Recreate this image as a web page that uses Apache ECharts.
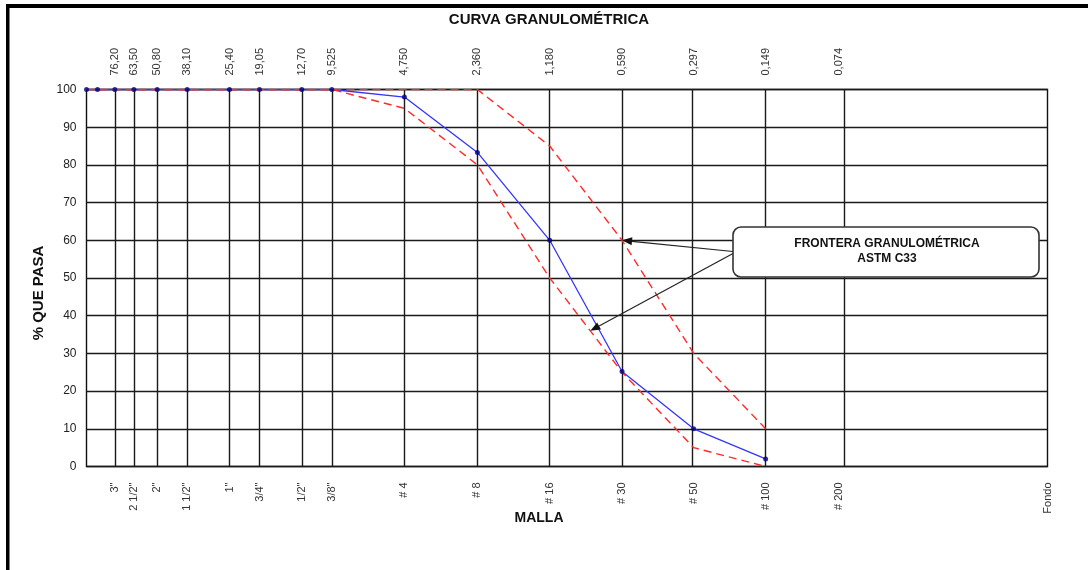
<!DOCTYPE html>
<html>
<head>
<meta charset="utf-8">
<script src="https://cdn.jsdelivr.net/npm/echarts@6/dist/echarts.min.js"></script>
<style>html,body{margin:0;padding:0;background:#fff}#c{width:1088px;height:570px}</style>
</head>
<body>
<div id="c"></div>
<script>
// Sieve openings (mm) of the sample points
const sizes = [100, 90, 76.2, 63.5, 50.8, 38.1, 25.4, 19.05, 12.7, 9.525, 4.75, 2.36, 1.18, 0.59, 0.297, 0.149];
// % passing of the sample
const pasa = [100, 100, 100, 100, 100, 100, 100, 100, 100, 100, 98, 83.3, 60, 25.2, 10, 2];
// ASTM C33 limits
const limInf = [100, 100, 100, 100, 100, 100, 100, 100, 100, 100, 95, 80, 50, 25, 5, 0];
const limSup = [100, 100, 100, 100, 100, 100, 100, 100, 100, 100, 100, 100, 85, 60, 30, 10];
// Vertical sieve lines and their labels
const sieveSizes = [76.2, 63.5, 50.8, 38.1, 25.4, 19.05, 12.7, 9.525, 4.75, 2.36, 1.18, 0.59, 0.297, 0.149, 0.074];
const topLabels = ['76,20', '63,50', '50,80', '38,10', '25,40', '19,05', '12,70', '9,525', '4,750', '2,360', '1,180', '0,590', '0,297', '0,149', '0,074'];
const bottomSizes = [76.2, 63.5, 50.8, 38.1, 25.4, 19.05, 12.7, 9.525, 4.75, 2.36, 1.18, 0.59, 0.297, 0.149, 0.074, 0.01];
const bottomLabels = ['3"', '2 1/2"', '2"', '1 1/2"', '1"', '3/4"', '1/2"', '3/8"', '# 4', '# 8', '# 16', '# 30', '# 50', '# 100', '# 200', 'Fondo'];
// Annotation arrow targets (on the limit curves)
const arrowTargets = [[0.59, 60], [0.8, 36]];

const FONT = "'Liberation Sans', Arial, Helvetica, sans-serif";
const chart = echarts.init(document.getElementById('c'), null, {renderer: 'canvas'});
const pairs = ys => sizes.map((s, i) => [s, ys[i]]);

chart.setOption({
  animation: false,
  grid: {left: 86.5, top: 89.5, right: 40.5, bottom: 103.5, show: true, borderColor: '#111', borderWidth: 1.4, backgroundColor: 'transparent'},
  xAxis: [{
    type: 'log', logBase: 10, inverse: true, min: 0.01, max: 100,
    axisLine: {show: false}, axisTick: {show: false}, axisLabel: {show: false}, splitLine: {show: false}
  }],
  yAxis: {
    type: 'value', min: 0, max: 100, interval: 10,
    axisLine: {show: false}, axisTick: {show: false},
    axisLabel: {fontSize: 12, color: '#222', margin: 10, fontFamily: FONT},
    splitLine: {lineStyle: {color: '#1a1a1a', width: 1.4}}
  },
  series: [
    {
      type: 'line', name: 'tamices', data: [], silent: true, z: 1,
      markLine: {
        silent: true, z: 1, symbol: ['none', 'none'], label: {show: false},
        lineStyle: {color: '#1a1a1a', width: 1.4, type: 'solid'},
        emphasis: {disabled: true},
        data: sieveSizes.map(s => ({xAxis: s}))
      }
    },
    {type: 'line', name: 'Muestra', data: pairs(pasa), showSymbol: false, lineStyle: {color: '#3535ff', width: 1.3}, z: 3},
    {type: 'line', name: 'Límite inferior', data: pairs(limInf), showSymbol: false, lineStyle: {color: '#ff2b2b', width: 1.4, type: [8, 5]}, z: 4},
    {type: 'line', name: 'Límite superior', data: pairs(limSup), showSymbol: false, lineStyle: {color: '#ff2b2b', width: 1.4, type: [8, 5]}, z: 4},
    {type: 'scatter', name: 'Puntos', data: pairs(pasa), symbolSize: 5, itemStyle: {color: '#000080'}, z: 5}
  ]
});

const yTop = chart.convertToPixel({yAxisIndex: 0}, 100);
const yBot = chart.convertToPixel({yAxisIndex: 0}, 0);
const g = [];
// frame
g.push({type: 'rect', shape: {x: 6, y: 4, width: 1082, height: 4}, style: {fill: '#000'}, z: 100});
g.push({type: 'rect', shape: {x: 6, y: 4, width: 3.5, height: 566}, style: {fill: '#000'}, z: 100});
// title & axis names
g.push({type: 'text', x: 549, y: 20, style: {text: 'CURVA GRANULOMÉTRICA', fontSize: 15, fontWeight: 'bold', fontFamily: FONT, fill: '#111', align: 'center', verticalAlign: 'middle'}, z: 100});
g.push({type: 'text', x: 539, y: 518, style: {text: 'MALLA', fontSize: 14, fontWeight: 'bold', fontFamily: FONT, fill: '#111', align: 'center', verticalAlign: 'middle'}, z: 100});
g.push({type: 'text', x: 39, y: 293, rotation: Math.PI / 2, style: {text: '% QUE PASA', fontSize: 15, fontWeight: 'bold', fontFamily: FONT, fill: '#111', align: 'center', verticalAlign: 'middle'}, z: 100});
// top labels
sieveSizes.forEach((s, i) => {
  const x = chart.convertToPixel({xAxisIndex: 0}, s);
  g.push({type: 'text', x: x, y: yTop - 14, rotation: Math.PI / 2, style: {text: topLabels[i], fontSize: 11, fontFamily: FONT, fill: '#333', align: 'left', verticalAlign: 'middle'}, z: 100});
});
// bottom labels
bottomSizes.forEach((s, i) => {
  const x = chart.convertToPixel({xAxisIndex: 0}, s);
  g.push({type: 'text', x: x, y: yBot + 16, rotation: Math.PI / 2, style: {text: bottomLabels[i], fontSize: 11, fontFamily: FONT, fill: '#333', align: 'right', verticalAlign: 'middle'}, z: 100});
});
// annotation box
g.push({type: 'rect', shape: {x: 733, y: 227, width: 306, height: 50, r: 8}, style: {fill: '#fff', stroke: '#333', lineWidth: 1.6}, z: 100});
g.push({type: 'text', x: 887, y: 251, style: {text: 'FRONTERA GRANULOMÉTRICA\nASTM C33', fontSize: 12, fontWeight: 'bold', fontFamily: FONT, fill: '#111', align: 'center', verticalAlign: 'middle', lineHeight: 15.5}, z: 101});
// arrows
const starts = [[733, 251.5], [733, 253.5]];
arrowTargets.forEach((t, i) => {
  const p = chart.convertToPixel({xAxisIndex: 0, yAxisIndex: 0}, t);
  const s = starts[i];
  const dx = p[0] - s[0], dy = p[1] - s[1];
  const L = Math.sqrt(dx * dx + dy * dy);
  const ux = dx / L, uy = dy / L;
  const hl = 10, hw = 4;
  const bx = p[0] - ux * hl, by = p[1] - uy * hl;
  g.push({type: 'line', shape: {x1: s[0], y1: s[1], x2: bx, y2: by}, style: {stroke: '#222', lineWidth: 1.2}, z: 99});
  g.push({type: 'polygon', shape: {points: [[p[0], p[1]], [bx - uy * hw, by + ux * hw], [bx + uy * hw, by - ux * hw]]}, style: {fill: '#111'}, z: 99});
});
chart.setOption({graphic: g});
</script>
</body>
</html>
